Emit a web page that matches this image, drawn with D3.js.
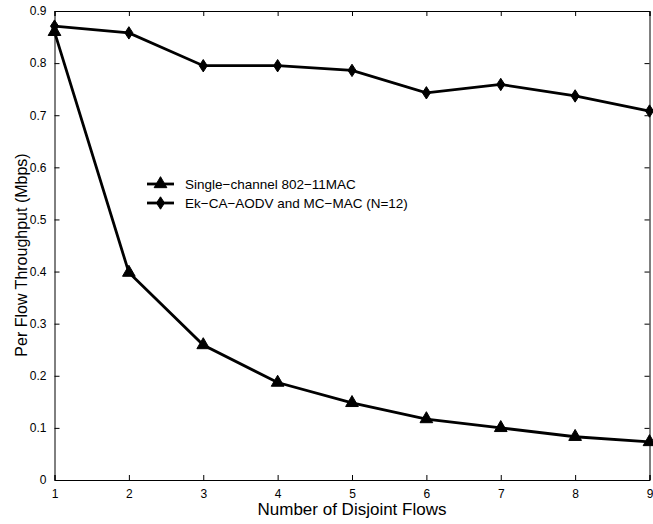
<!DOCTYPE html>
<html>
<head>
<meta charset="utf-8">
<script src="https://cdn.jsdelivr.net/npm/d3@7/dist/d3.min.js"></script>
<style>
  html, body { margin: 0; padding: 0; background: #fff; }
  svg { display: block; }
  text { font-family: "Liberation Sans", Arial, Helvetica, sans-serif; fill: #000; }
</style>
</head>
<body>
<svg id="chart" width="653" height="524"></svg>
<script>
// Number of disjoint flows on the x axis
const flows = [1, 2, 3, 4, 5, 6, 7, 8, 9];
// Per-flow throughput (Mbps) for each scheme
const singleChannel = [0.860, 0.398, 0.259, 0.187, 0.148, 0.117, 0.100, 0.083, 0.073];
const ekCaAodv = [0.871, 0.858, 0.795, 0.795, 0.786, 0.743, 0.759, 0.737, 0.708];
// Axis tick values
const xTicks = [1, 2, 3, 4, 5, 6, 7, 8, 9];
const yTicks = [0, 0.1, 0.2, 0.3, 0.4, 0.5, 0.6, 0.7, 0.8, 0.9];
const seriesNames = ["Single\u2212channel 802\u221211MAC", "Ek\u2212CA\u2212AODV and MC\u2212MAC (N=12)"];

const svg = d3.select("#chart");
const plotLeft = 54.5, plotRight = 649.5, plotTop = 11, plotBottom = 480;

const x = d3.scaleLinear().domain([1, 9]).range([plotLeft, plotRight]);
const y = d3.scaleLinear().domain([0, 0.9]).range([plotBottom, plotTop]);

const fmtY = d => d === 0 ? "0" : d3.format(".1f")(d);
const tickLen = 5;

// Bottom axis (ticks pointing into the plot)
const gx = svg.append("g").attr("transform", `translate(0,${plotBottom})`)
  .call(d3.axisBottom(x).tickValues(xTicks).tickSize(-tickLen).tickPadding(9).tickFormat(d3.format("d")));
// Top axis, ticks only
const gxt = svg.append("g").attr("transform", `translate(0,${plotTop})`)
  .call(d3.axisTop(x).tickValues(xTicks).tickSize(-tickLen).tickFormat(""));
// Left axis
const gy = svg.append("g").attr("transform", `translate(${plotLeft},0)`)
  .call(d3.axisLeft(y).tickValues(yTicks).tickSize(-tickLen).tickPadding(8).tickFormat(fmtY));
// Right axis, ticks only
const gyr = svg.append("g").attr("transform", `translate(${plotRight},0)`)
  .call(d3.axisRight(y).tickValues(yTicks).tickSize(-tickLen).tickFormat(""));

[gx, gxt, gy, gyr].forEach(g => {
  g.select(".domain").attr("stroke", "#000").attr("stroke-width", 1);
  g.selectAll(".tick line").attr("stroke", "#000").attr("stroke-width", 1);
  g.selectAll(".tick text").attr("font-size", 12).attr("font-family", "Liberation Sans, Arial, sans-serif").attr("fill", "#000");
});
gx.selectAll(".tick text").attr("dy", "0.71em");

// Axis titles
svg.append("text")
  .attr("x", (plotLeft + plotRight) / 2).attr("y", 515)
  .attr("text-anchor", "middle").attr("font-size", 17)
  .text("Number of Disjoint Flows");
svg.append("text")
  .attr("transform", "translate(27,255) rotate(-90)")
  .attr("text-anchor", "middle").attr("font-size", 16)
  .text("Per Flow Throughput (Mbps)");

const line = d3.line().x((d, i) => x(flows[i])).y(d => y(d));

const triangle = d3.symbol().type(d3.symbolTriangle).size(70);
const diamondPath = "M0,-6.2L4,0L0,6.2L-4,0Z";

function drawSeries(values, markerPath) {
  svg.append("path").datum(values)
    .attr("d", line).attr("fill", "none").attr("stroke", "#000")
    .attr("stroke-width", 2.8).attr("stroke-linejoin", "miter");
  svg.append("g").selectAll("path").data(values).join("path")
    .attr("transform", (d, i) => `translate(${x(flows[i])},${y(d)})`)
    .attr("d", markerPath).attr("fill", "#000").attr("stroke", "#000").attr("stroke-width", 1);
}

drawSeries(singleChannel, triangle());
drawSeries(ekCaAodv, diamondPath);

// Legend
const legend = svg.append("g");
const legendRows = [
  { name: seriesNames[0], marker: triangle(), y: 184 },
  { name: seriesNames[1], marker: diamondPath, y: 203 }
];
legendRows.forEach(r => {
  legend.append("line").attr("x1", 147).attr("x2", 174).attr("y1", r.y).attr("y2", r.y)
    .attr("stroke", "#000").attr("stroke-width", 2.8);
  legend.append("path").attr("transform", `translate(160.5,${r.y})`).attr("d", r.marker)
    .attr("fill", "#000").attr("stroke", "#000").attr("stroke-width", 1);
  legend.append("text").attr("x", 185).attr("y", r.y + 5).attr("font-size", 13.5).text(r.name);
});
</script>
</body>
</html>
